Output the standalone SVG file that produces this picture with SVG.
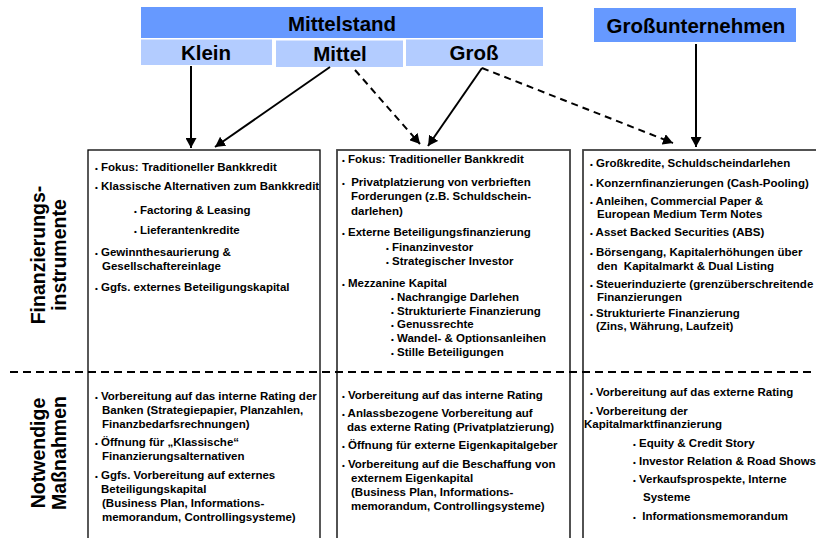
<svg xmlns="http://www.w3.org/2000/svg" width="816" height="538" viewBox="0 0 816 538">
<style>
.hd{font-family:"Liberation Sans",Arial,sans-serif;font-weight:bold;font-size:20.5px;fill:#000;text-anchor:middle}
.t{font-family:"Liberation Sans",Arial,sans-serif;font-weight:bold;font-size:11.5px;fill:#000}
.b{font-size:8px}
.lab{font-family:"Liberation Sans",Arial,sans-serif;font-weight:bold;font-size:19.5px;fill:#000;text-anchor:middle}
.dark{fill:#6699FF}
.light{fill:#B3CCFF}
.box{fill:#fff;stroke:#000;stroke-width:1.3}
.box2{fill:#fff;stroke:#404040;stroke-width:1.8}
.ar{stroke:#000;stroke-width:2;fill:none}
.da{stroke:#000;stroke-width:2;fill:none;stroke-dasharray:7 5}
</style>
<defs>
<marker id="ah" viewBox="0 0 10 11" refX="10" refY="5.5" markerWidth="10" markerHeight="11" markerUnits="userSpaceOnUse" orient="auto">
<path d="M0,0 L10,5.5 L0,11 z" fill="#000"/>
</marker>
</defs>
<rect width="816" height="538" fill="#fff"/>

<g id="mittelstand">
<rect class="dark" x="141" y="7" width="402" height="31"/>
<text class="hd" x="342" y="30.5">Mittelstand</text>
</g>
<g id="klein">
<rect class="light" x="141" y="39.5" width="131" height="25.5"/>
<text class="hd" x="206" y="60">Klein</text>
</g>
<g id="mittel">
<rect class="light" x="276" y="40.5" width="127" height="26.5"/>
<text class="hd" x="340" y="61">Mittel</text>
</g>
<g id="gross">
<rect class="light" x="406" y="39.5" width="137" height="26.5"/>
<text class="hd" x="474" y="59.5">Groß</text>
</g>
<g id="grossunternehmen">
<rect class="dark" x="594" y="8" width="202" height="34"/>
<text class="hd" x="696" y="33">Großunternehmen</text>
</g>

<g id="labels">
<g transform="translate(0,255) rotate(-90)">
<text class="lab" x="0" y="45">Finanzierungs-</text>
<text class="lab" x="0" y="66">instrumente</text>
</g>
<g transform="translate(0,453) rotate(-90)">
<text class="lab" x="0" y="45">Notwendige</text>
<text class="lab" x="0" y="66">Maßnahmen</text>
</g>
</g>

<g id="col-klein-mittel">
<rect class="box" x="88" y="150" width="232" height="400"/>
<text class="t" x="95" y="171"><tspan class="b">•</tspan> Fokus: Traditioneller Bankkredit</text>
<text class="t" x="95" y="190"><tspan class="b">•</tspan> Klassische Alternativen zum Bankkredit</text>
<text class="t" x="134" y="214"><tspan class="b">•</tspan> Factoring &amp; Leasing</text>
<text class="t" x="134" y="234"><tspan class="b">•</tspan> Lieferantenkredite</text>
<text class="t" x="95" y="256"><tspan class="b">•</tspan> Gewinnthesaurierung &amp;</text>
<text class="t" x="102" y="270">Gesellschaftereinlage</text>
<text class="t" x="95" y="291"><tspan class="b">•</tspan> Ggfs. externes Beteiligungskapital</text>
<text class="t" x="95" y="400"><tspan class="b">•</tspan> Vorbereitung auf das interne Rating der</text>
<text class="t" x="102" y="414">Banken (Strategiepapier, Planzahlen,</text>
<text class="t" x="102" y="428">Finanzbedarfsrechnungen)</text>
<text class="t" x="95" y="446"><tspan class="b">•</tspan> Öffnung für „Klassische“</text>
<text class="t" x="102" y="460">Finanzierungsalternativen</text>
<text class="t" x="95" y="479"><tspan class="b">•</tspan> Ggfs. Vorbereitung auf externes</text>
<text class="t" x="101" y="493">Beteiligungskapital</text>
<text class="t" x="102" y="507">(Business Plan, Informations-</text>
<text class="t" x="102" y="521">memorandum, Controllingsysteme)</text>
</g>

<g id="col-gross">
<rect class="box2" x="337" y="150" width="233" height="400"/>
<text class="t" x="342" y="163"><tspan class="b">•</tspan> Fokus: Traditioneller Bankkredit</text>
<text class="t" x="342" y="186" xml:space="preserve"><tspan class="b">•</tspan>  Privatplatzierung von verbrieften</text>
<text class="t" x="351" y="200">Forderungen (z.B. Schuldschein-</text>
<text class="t" x="351" y="215">darlehen)</text>
<text class="t" x="342" y="236"><tspan class="b">•</tspan> Externe Beteiligungsfinanzierung</text>
<text class="t" x="386" y="251"><tspan class="b">•</tspan> Finanzinvestor</text>
<text class="t" x="386" y="265"><tspan class="b">•</tspan> Strategischer Investor</text>
<text class="t" x="342" y="287"><tspan class="b">•</tspan> Mezzanine Kapital</text>
<text class="t" x="391" y="301"><tspan class="b">•</tspan> Nachrangige Darlehen</text>
<text class="t" x="391" y="315"><tspan class="b">•</tspan> Strukturierte Finanzierung</text>
<text class="t" x="391" y="328"><tspan class="b">•</tspan> Genussrechte</text>
<text class="t" x="391" y="342"><tspan class="b">•</tspan> Wandel- &amp; Optionsanleihen</text>
<text class="t" x="391" y="356"><tspan class="b">•</tspan> Stille Beteiligungen</text>
<text class="t" x="342" y="399"><tspan class="b">•</tspan> Vorbereitung auf das interne Rating</text>
<text class="t" x="342" y="417"><tspan class="b">•</tspan> Anlassbezogene Vorbereitung auf</text>
<text class="t" x="347" y="431">das externe Rating (Privatplatzierung)</text>
<text class="t" x="342" y="449"><tspan class="b">•</tspan> Öffnung für externe Eigenkapitalgeber</text>
<text class="t" x="342" y="468"><tspan class="b">•</tspan> Vorbereitung auf die Beschaffung von</text>
<text class="t" x="351" y="482">externem Eigenkapital</text>
<text class="t" x="351" y="496">(Business Plan, Informations-</text>
<text class="t" x="351" y="510">memorandum, Controllingsysteme)</text>
</g>

<g id="col-grossunternehmen">
<rect class="box2" x="583" y="150" width="260" height="400"/>
<text class="t" x="590" y="167"><tspan class="b">•</tspan> Großkredite, Schuldscheindarlehen</text>
<text class="t" x="590" y="187"><tspan class="b">•</tspan> Konzernfinanzierungen (Cash-Pooling)</text>
<text class="t" x="590" y="205"><tspan class="b">•</tspan> Anleihen, Commercial Paper &amp;</text>
<text class="t" x="597" y="218">European Medium Term Notes</text>
<text class="t" x="590" y="236"><tspan class="b">•</tspan> Asset Backed Securities (ABS)</text>
<text class="t" x="590" y="256"><tspan class="b">•</tspan> Börsengang, Kapitalerhöhungen über</text>
<text class="t" x="597" y="270" xml:space="preserve">den  Kapitalmarkt &amp; Dual Listing</text>
<text class="t" x="590" y="288"><tspan class="b">•</tspan> Steuerinduzierte (grenzüberschreitende</text>
<text class="t" x="597" y="301">Finanzierungen</text>
<text class="t" x="590" y="317"><tspan class="b">•</tspan> Strukturierte Finanzierung</text>
<text class="t" x="596" y="330">(Zins, Währung, Laufzeit)</text>
<text class="t" x="590" y="396"><tspan class="b">•</tspan> Vorbereitung auf das externe Rating</text>
<text class="t" x="590" y="415"><tspan class="b">•</tspan> Vorbereitung der</text>
<text class="t" x="584" y="428">Kapitalmarktfinanzierung</text>
<text class="t" x="633" y="447"><tspan class="b">•</tspan> Equity &amp; Credit Story</text>
<text class="t" x="633" y="465"><tspan class="b">•</tspan> Investor Relation &amp; Road Shows</text>
<text class="t" x="633" y="483"><tspan class="b">•</tspan> Verkaufsprospekte, Interne</text>
<text class="t" x="643" y="501">Systeme</text>
<text class="t" x="633" y="520" xml:space="preserve"><tspan class="b">•</tspan>  Informationsmemorandum</text>
</g>

<g id="separator">
<line x1="10" y1="372" x2="816" y2="372" stroke="#000" stroke-width="2" stroke-dasharray="8 5"/>
</g>

<g id="connectors">
<line class="ar" x1="191" y1="66" x2="191" y2="148" marker-end="url(#ah)"/>
<line class="ar" x1="330" y1="67" x2="215" y2="147" marker-end="url(#ah)"/>
<line class="da" x1="355" y1="70" x2="420" y2="144" marker-end="url(#ah)"/>
<line class="ar" x1="482" y1="68" x2="428" y2="146" marker-end="url(#ah)"/>
<line class="da" x1="482" y1="68" x2="673" y2="143" marker-end="url(#ah)"/>
<line class="ar" x1="696" y1="44" x2="696" y2="147" marker-end="url(#ah)"/>
</g>
</svg>
